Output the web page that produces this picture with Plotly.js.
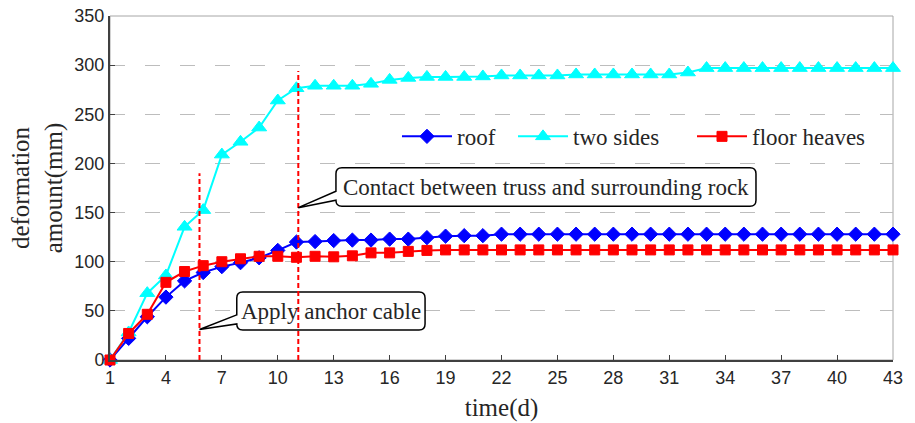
<!DOCTYPE html>
<html>
<head>
<meta charset="utf-8">
<script src="https://cdn.plot.ly/plotly-3.0.1.min.js"></script>
<style>
  html, body { margin: 0; padding: 0; background: #ffffff; }
  #chart { width: 915px; height: 423px; }
</style>
</head>
<body>
<div id="chart"></div>
<script>
// Monitoring days
var days = [1, 2, 3, 4, 5, 6, 7, 8, 9, 10, 11, 12, 13, 14, 15, 16, 17, 18, 19, 20, 21, 22,
            23, 24, 25, 26, 27, 28, 29, 30, 31, 32, 33, 34, 35, 36, 37, 38, 39, 40, 41, 42, 43];

// Deformation amount (mm) for each measuring position
var roof = [0, 22, 44, 64, 80.5, 89, 95, 99, 104, 111.5, 120, 120.5, 121.5, 122, 122, 123, 123,
            124.5, 126, 126.5, 126.5, 128, 128, 128, 128, 128, 128, 128, 128, 128, 128, 128, 128,
            128, 128, 128, 128, 128, 128, 128, 128, 128, 128];
var twoSides = [0, 28, 68, 86, 135.5, 152.5, 209, 222, 236.5, 264, 276.5, 279, 279, 279, 281, 285,
                287, 288, 288, 288, 288.5, 289.5, 289.5, 289.5, 289.5, 290.5, 290.5, 290.5, 290.5,
                290.5, 290.5, 292.5, 297, 297, 297, 297, 297, 297, 297, 297, 297, 297, 297];
var floorHeaves = [0, 27, 46.5, 79, 90, 96, 100, 103, 105.5, 105.5, 104.5, 105.5, 105, 106, 109,
                   109, 110.5, 111.5, 112, 112, 112, 112, 112, 112, 112, 112, 112, 112, 112, 112,
                   112, 112, 112, 112, 112, 112, 112, 112, 112, 112, 112, 112, 112];

var seriesNames = ['roof', 'two sides', 'floor heaves'];
var xTicks = [1, 4, 7, 10, 13, 16, 19, 22, 25, 28, 31, 34, 37, 40, 43];

// Construction stages: day of the event and height of its marker line
var stageDays = [5.8, 11.1];
var stageTops = [190, 294];
var stageTexts = ['Apply anchor cable', 'Contact between truss and surrounding rock'];
// Callout boxes in data units: [left, right, bottom, top], wedge tip y, upper wedge root y
var stageBoxes = [[7.8, 17.9, 30.6, 69.1], [13.12, 35.65, 156.4, 195.6]];
var stageTipY = [31, 155];
var stageRootY = [45.9, 171.7];

var serif = 'Liberation Serif, Times New Roman, serif';
var sans = 'Liberation Sans, Arial, sans-serif';
var ink = '#262626';

function series(y, name, color, symbol, size, legendId) {
  return {
    x: days, y: y, name: name, type: 'scatter', mode: 'lines+markers',
    line: {color: color, width: 2},
    marker: {color: color, symbol: symbol, size: size, line: {color: color, width: 1}},
    cliponaxis: false,
    legend: legendId
  };
}

var traces = [
  series(roof, seriesNames[0], '#0000ff', 'diamond', 11, 'legend'),
  series(twoSides, seriesNames[1], '#00ffff', 'triangle-up', 13, 'legend2'),
  series(floorHeaves, seriesNames[2], '#ff0000', 'square', 10, 'legend3')
];

// plot geometry used to turn pixel radii into data units
var W = 915, H = 423;
var M = {l: 110, r: 22, t: 16, b: 63};
var xRange = [1, 43], yRange = [0, 350];
var pxX = (W - M.l - M.r) / (xRange[1] - xRange[0]);
var pxY = (H - M.t - M.b) / (yRange[1] - yRange[0]);

function bubblePath(box, tipX, tipY, rootY, r) {
  var x0 = box[0], x1 = box[1], y0 = box[2], y1 = box[3];
  var rx = r / pxX, ry = r / pxY;
  var p = [];
  p.push('M' + x0 + ',' + rootY);
  p.push('L' + tipX + ',' + tipY);
  p.push('L' + x0 + ',' + (y0 + ry));
  p.push('Q' + x0 + ',' + y0 + ' ' + (x0 + rx) + ',' + y0);
  p.push('L' + (x1 - rx) + ',' + y0);
  p.push('Q' + x1 + ',' + y0 + ' ' + x1 + ',' + (y0 + ry));
  p.push('L' + x1 + ',' + (y1 - ry));
  p.push('Q' + x1 + ',' + y1 + ' ' + (x1 - rx) + ',' + y1);
  p.push('L' + (x0 + rx) + ',' + y1);
  p.push('Q' + x0 + ',' + y1 + ' ' + x0 + ',' + (y1 - ry));
  p.push('Z');
  return p.join(' ');
}

var shapes = [{
  type: 'rect', xref: 'paper', yref: 'paper', x0: 0, x1: 1, y0: 0, y1: 1,
  line: {color: '#a6a6a6', width: 1}, layer: 'below'
}];
var annotations = [];

for (var i = 0; i < stageDays.length; i++) {
  shapes.push({
    type: 'line', xref: 'x', yref: 'y',
    x0: stageDays[i], x1: stageDays[i], y0: 0, y1: stageTops[i],
    line: {color: '#ff0000', width: 2, dash: '5px,3px'}, layer: 'above'
  });
  shapes.push({
    type: 'path', xref: 'x', yref: 'y',
    path: bubblePath(stageBoxes[i], stageDays[i], stageTipY[i], stageRootY[i], 6),
    fillcolor: '#ffffff', line: {color: '#000000', width: 1.5}, layer: 'above'
  });
  annotations.push({
    xref: 'x', yref: 'y',
    x: (stageBoxes[i][0] + stageBoxes[i][1]) / 2,
    y: (stageBoxes[i][2] + stageBoxes[i][3]) / 2,
    text: stageTexts[i], showarrow: false,
    font: {family: serif, size: 23, color: ink}
  });
}

function legendAt(x) {
  return {
    orientation: 'h', x: x, xanchor: 'left', y: 0.65, yanchor: 'middle',
    bgcolor: 'rgba(0,0,0,0)', font: {family: serif, size: 23, color: ink},
    itemwidth: 50
  };
}

var layout = {
  width: W, height: H,
  margin: M,
  paper_bgcolor: '#ffffff', plot_bgcolor: '#ffffff',
  showlegend: true,
  legend: legendAt(0.3665),
  legend2: legendAt(0.5147),
  legend3: legendAt(0.7433),
  xaxis: {
    range: xRange, tickmode: 'array', tickvals: xTicks,
    showgrid: false, zeroline: false,
    showline: true, linecolor: '#404040', linewidth: 2,
    ticks: 'inside', ticklen: 5, tickcolor: '#404040', tickwidth: 1,
    tickfont: {family: sans, size: 18, color: ink},
    title: {text: 'time(d)', font: {family: serif, size: 25, color: ink}, standoff: 12}
  },
  yaxis: {
    range: yRange, dtick: 50, tick0: 0,
    showgrid: true, gridcolor: '#bdbdbd', gridwidth: 1, griddash: '15px,20px',
    zeroline: false,
    showline: true, linecolor: '#404040', linewidth: 2,
    ticks: 'inside', ticklen: 5, tickcolor: '#404040', tickwidth: 1,
    tickfont: {family: sans, size: 18, color: ink},
    title: {text: 'deformation<br>amount(mm)', font: {family: serif, size: 25, color: ink}, standoff: 5}
  },
  shapes: shapes,
  annotations: annotations
};

Plotly.newPlot('chart', traces, layout, {staticPlot: true, displayModeBar: false});
</script>
</body>
</html>
